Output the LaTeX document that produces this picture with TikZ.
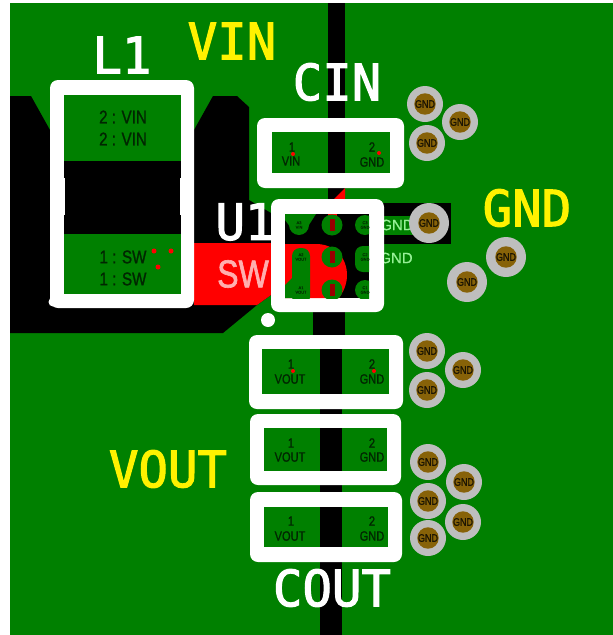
\documentclass[tikz,border=0pt]{standalone}
\usepackage{fontspec}
\newfontfamily\silkfont[FakeBold=2.2,FakeStretch=0.98]{DejaVu Sans Mono}
\newfontfamily\padfont[FakeStretch=0.82,FakeBold=1.1]{Liberation Sans}
\newfontfamily\swfont[FakeStretch=0.82,FakeBold=1.6]{Liberation Sans}
\newfontfamily\lightfont[FakeBold=0.8]{Liberation Sans}
\definecolor{boardgreen}{RGB}{0,128,0}
\definecolor{viagray}{RGB}{190,190,190}
\definecolor{viabrown}{RGB}{135,98,8}
\definecolor{softgreen}{RGB}{150,240,150}
\definecolor{softred}{RGB}{255,175,175}
\tikzset{
  silkwhite/.style={inner sep=0pt,text=white,font=\silkfont\fontsize{50}{50}\selectfont},
  silkyellow/.style={inner sep=0pt,text=yellow,font=\silkfont\fontsize{50}{50}\selectfont},
  padtext/.style={inner sep=0pt,text=black!85!green,font=\padfont\fontsize{13.5}{13.5}\selectfont},
  coiltext/.style={inner sep=0pt,text=black!85!green,font=\padfont\fontsize{18.5}{18.5}\selectfont},
  ringnode/.style={circle,fill=viagray,inner sep=0pt,minimum size=#1},
  holenode/.style={circle,fill=viabrown,inner sep=0pt,minimum size=20pt,text=black!80!viabrown,font=\padfont\fontsize{11}{11}\selectfont},
  balltext/.style={inner sep=0pt,align=center,text=black!80!green,font=\lightfont\fontsize{4}{4.5}\selectfont},
  whitebox/.style={fill=white,rounded corners=8pt},
  netlabel/.style={inner sep=0pt,text=softgreen,font=\lightfont\fontsize{15}{15}\selectfont},
  reddot/.style={circle,fill=red,inner sep=0pt,minimum size=5pt}
}
\begin{document}
\begin{tikzpicture}[x=1pt,y=-1pt]
\useasboundingbox (0,0) rectangle (613,635);
\fill[white] (0,0) rectangle (613,635);
\fill[boardgreen] (10,3) rectangle (613,635);
% copper pours
\fill[black] (10,96)--(31,96)--(50,130)--(194,130)--(213,96)--(237,96)--(249,107)--(249,200)--(271,213)--(271,295)--(257,305)--(223,333)--(10,333)--cycle;
\fill[red] (194,243)--(271,243)--(271,295)--(257,305)--(194,305)--cycle;
\fill[black] (328,3) rectangle (345,200);
\fill[red] (333,200)--(345,188)--(345,200)--cycle;
\fill[black] (313,305) rectangle (345,336);
\fill[black] (320,336) rectangle (342,635);
% L1
\fill[whitebox] (50,80) rectangle (194,308);
\fill[white] (53,302) circle (4.5);
\fill[boardgreen] (64,95) rectangle (181,294);
\fill[black] (64,161) rectangle (181,234);
\fill[white] (64,178) rectangle (65,215);
\fill[white] (180,178) rectangle (181,215);
\node[coiltext] (l1a) at (123,117) {2 : VIN};
\node[coiltext] (l1b) at (123,139) {2 : VIN};
\node[coiltext] (l1c) at (123,257) {1 : SW};
\node[coiltext] (l1d) at (123,279) {1 : SW};
\node[reddot] (d1) at (154,251) {};
\node[reddot] (d2) at (171,251) {};
\node[reddot] (d3) at (158,267) {};
\node[inner sep=0pt,text=softred,font=\swfont\fontsize{39}{39}\selectfont] (swlabel) at (243,274) {SW};
% CIN
\fill[whitebox] (257,118) rectangle (404,188);
\fill[boardgreen] (272,132) rectangle (390,173);
\fill[black] (328,132) rectangle (345,173);
\node[padtext] (c1a) at (292,147) {1};
\node[padtext] (c1b) at (291,161) {VIN};
\node[padtext] (c1c) at (372,147) {2};
\node[padtext] (c1d) at (372,162) {GND};
\node[reddot,minimum size=4pt] (d4) at (293,154) {};
\node[reddot,minimum size=4pt] (d5) at (379,153) {};
% COUT 1
\fill[whitebox] (249,335) rectangle (403,409);
\fill[boardgreen] (262,349) rectangle (389,394);
\fill[black] (320,349) rectangle (342,394);
\node[padtext] (o1a) at (291,364) {1};
\node[padtext] (o1b) at (290,379) {VOUT};
\node[padtext] (o1c) at (372,364) {2};
\node[padtext] (o1d) at (372,379) {GND};
\node[reddot,minimum size=4pt] (d6) at (293,371) {};
\node[reddot,minimum size=4pt] (d7) at (374,371) {};
% COUT 2
\fill[whitebox] (250,414) rectangle (401,485);
\fill[boardgreen] (264,428) rectangle (387,471);
\fill[black] (320,428) rectangle (342,471);
\node[padtext] (o2a) at (291,443) {1};
\node[padtext] (o2b) at (290,457) {VOUT};
\node[padtext] (o2c) at (372,443) {2};
\node[padtext] (o2d) at (372,457) {GND};
% COUT 3
\fill[whitebox] (250,492) rectangle (402,562);
\fill[boardgreen] (264,507) rectangle (388,547);
\fill[black] (320,507) rectangle (342,547);
\node[padtext] (o3a) at (291,521) {1};
\node[padtext] (o3b) at (290,536) {VOUT};
\node[padtext] (o3c) at (372,521) {2};
\node[padtext] (o3d) at (372,536) {GND};
% GND strip right of U1
\fill[black] (380,203) rectangle (451,244);
\fill[boardgreen] (380,216) rectangle (416,235);
\node[netlabel] (gnda) at (397,225) {GND};
\node[netlabel] (gndb) at (396,258) {GND};
% U1
\fill[whitebox] (271,199) rectangle (384,312);
\begin{scope}
\clip (285,214) rectangle (369,298);
\fill[black] (285,214) rectangle (369,298);
\fill[red] (285,244)--(316,244).. controls (335,244) and (347,258) .. (347,275).. controls (347,285) and (343,292) .. (339,298)--(285,298)--cycle;
\fill[red] (328,214) rectangle (337,218);
\fill[boardgreen] (285,214)--(316,214)--(307,228)--(291,228)--(285,220)--cycle;
\fill[boardgreen] (299,225) circle (10);
\foreach \yy in {225,257,290} {
  \fill[boardgreen] (332,\yy) circle (10.5);
  \fill[red!60!black] (330,\yy-6) rectangle (335,\yy+6);
}
\fill[boardgreen] (365,225) circle (10);
\fill[boardgreen] (365,290) circle (10);
\fill[boardgreen,rounded corners=8pt] (355,246) rectangle (380,272);
\fill[boardgreen,rounded corners=8pt] (292,248) rectangle (310,305);
\fill[boardgreen] (285,285)--(292,278)--(292,298)--(285,298)--cycle;
\end{scope}
\node[balltext] (a3) at (299,225) {A3\\VIN};
\node[balltext] (a2) at (301,257) {A2\\VOUT};
\node[balltext] (a1) at (301,290) {A1\\VOUT};
\node[balltext] (c3) at (365,225) {C3\\GND};
\node[balltext] (c2) at (365,257) {C2\\GND};
\node[balltext] (c1) at (365,290) {C1\\GND};
\node[circle,fill=white,inner sep=0pt,minimum size=14pt] (dot) at (268,320) {};
% vias
\foreach \n/\xx/\yy/\dd in {1/425/104/36,2/460/122/36,3/427/143/36,4/427/351/36,5/463/370/36,6/427/390/36,7/428/462/36,8/464/482/36,9/428/501/36,10/463/522/36,11/428/538/36,12/506/257/40,13/467/282/40,14/429/223/40} {
  \node[ringnode=\dd pt] (ring\n) at (\xx,\yy) {};
  \node[holenode] (hole\n) at (ring\n) {GND};
}
% silkscreen labels
\node[silkwhite] (L1) at (122,55) {L1};
\node[silkyellow] (VIN) at (232,41) {VIN};
\node[silkwhite] (CIN) at (337,82) {CIN};
\node[silkwhite] (U1) at (245,222) {U1};
\node[silkyellow] (GND) at (527,208) {GND};
\node[silkyellow] (VOUT) at (168,469) {VOUT};
\node[silkwhite] (COUT) at (332,588) {COUT};
\end{tikzpicture}
\end{document}
